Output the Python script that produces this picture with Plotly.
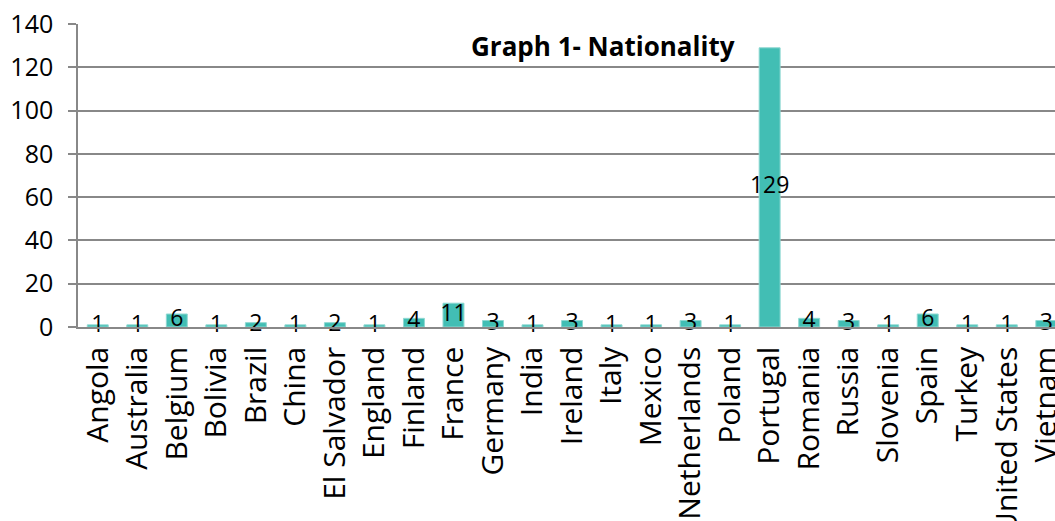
import plotly.graph_objects as go

countries = ["Angola", "Australia", "Belgium", "Bolivia", "Brazil", "China", "El Salvador",
             "England", "Finland", "France", "Germany", "India", "Ireland", "Italy", "Mexico",
             "Netherlands", "Poland", "Portugal", "Romania", "Russia", "Slovenia", "Spain",
             "Turkey", "United States", "Vietnam"]
counts = [1, 1, 6, 1, 2, 1, 2, 1, 4, 11, 3, 1, 3, 1, 1, 3, 1, 129, 4, 3, 1, 6, 1, 1, 3]
y_ticks = [0, 20, 40, 60, 80, 100, 120, 140]

FONT = "Open Sans"
BAR = "#42BEB4"
GRID = "#888888"

fig = go.Figure()
fig.add_trace(go.Bar(
    x=countries, y=counts,
    marker=dict(color=BAR, line=dict(color="#8fd8d2", width=1)),
    width=0.53, showlegend=False, hoverinfo="x+y",
))
fig.add_trace(go.Scatter(
    x=countries, y=[v / 2 for v in counts], mode="text",
    text=[str(v) for v in counts], textposition="middle center",
    textfont=dict(family=FONT, size=23, color="#000000"),
    showlegend=False, hoverinfo="skip", cliponaxis=False,
))

fig.add_annotation(
    text="<b>Graph 1- Nationality</b>", x=0.537, xref="paper",
    y=1 - (46 - 24) / 303, yref="paper", yanchor="middle",
    showarrow=False, font=dict(family=FONT, size=26, color="#000000"),
)

fig.update_layout(
    width=1055, height=521,
    margin=dict(l=78, r=0, t=24, b=194, autoexpand=False),
    paper_bgcolor="white", plot_bgcolor="white",
    font=dict(family=FONT, color="#000000"),
    xaxis=dict(
        type="category", range=[-0.5, 24.22], automargin=False,
        tickangle=-90, tickfont=dict(family=FONT, size=30, color="#000000"),
        showline=True, linecolor=GRID, linewidth=1.5,
        ticks="", showgrid=False, ticklabelstandoff=6,
    ),
    yaxis=dict(
        range=[0, 140], tickvals=y_ticks, automargin=False,
        tickfont=dict(family=FONT, size=25, color="#000000"),
        showgrid=True, gridcolor=GRID, gridwidth=1.5,
        showline=True, linecolor=GRID, linewidth=1.5,
        ticks="outside", ticklen=8, tickcolor=GRID, tickwidth=1.5,
        ticklabelstandoff=10, zeroline=False,
    ),
    bargap=0.47,
)

fig.write_html("out.html")
